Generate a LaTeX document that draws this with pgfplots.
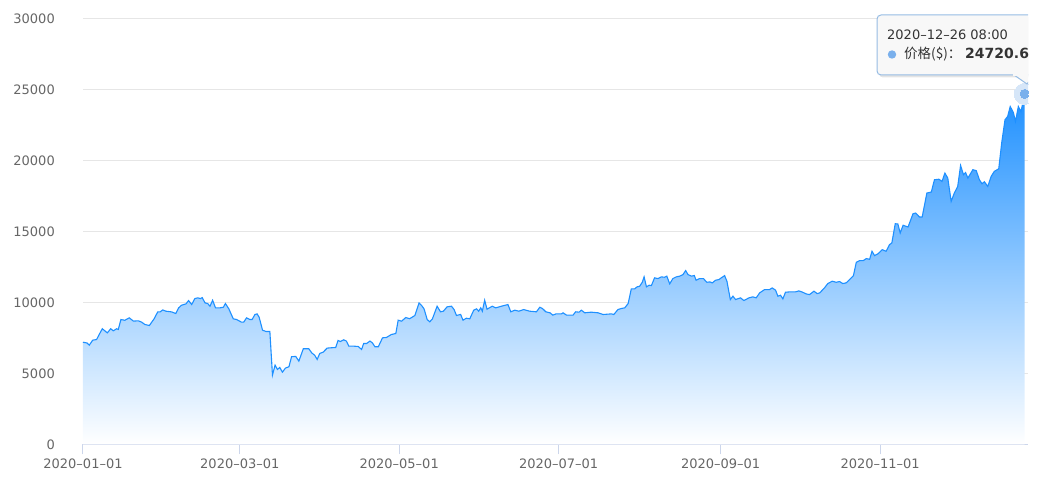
\documentclass[border=0pt]{standalone}
\usepackage{fontspec}
\setmainfont{DejaVu Sans}
\newfontfamily\cjk{Noto Sans CJK SC}
\usepackage{pgfplots}
\usepackage{pgfplotstable}
\pgfplotsset{compat=1.18}
\definecolor{series}{RGB}{30,144,255}
\definecolor{gridcol}{RGB}{230,230,230}
\definecolor{axiscol}{RGB}{204,214,235}
\definecolor{labelcol}{RGB}{102,102,102}
\definecolor{txt}{RGB}{51,51,51}
\definecolor{dot}{RGB}{122,176,236}
\definecolor{halo}{RGB}{214,230,248}
\definecolor{tipbg}{RGB}{248,248,248}
\definecolor{tipborder}{RGB}{150,188,228}

\pgfplotstableread{
d v
0 7200
1.5 7150
2.4 6990
3.7 7345
5.2 7390
6.2 7750
7.4 8150
9.3 7860
10.6 8150
11.6 8005
12.9 8150
13.5 8100
14.5 8800
16 8750
17.7 8920
19.3 8690
21.2 8710
22.4 8620
23.7 8450
25.4 8380
27.2 8850
28.6 9340
29.5 9340
30.5 9480
31.7 9390
33.9 9340
35.5 9225
36.6 9625
37.7 9810
39.4 9905
40.4 10140
41.6 9860
42.8 10280
43.9 10330
45.0 10280
45.6 10350
46.7 9975
47.7 9930
48.6 9740
49.6 10160
50.7 9625
52.4 9625
53.7 9670
54.5 9930
55.8 9555
57.5 8850
58.8 8800
60.6 8620
61.5 8620
62.6 8920
63.9 8800
64.7 8800
65.8 9155
66.6 9200
67.4 8965
68.7 8050
70.0 7960
71.5 7960
72.5 4880
73.5 5585
74.4 5280
75.3 5420
76.3 5090
77.5 5380
78.8 5470
79.8 6175
81.4 6200
82.6 5870
84.3 6740
86.4 6740
87.5 6455
88.7 6270
89.6 5985
90.6 6410
91.9 6500
93.4 6785
95.1 6810
96.7 6830
97.6 7325
98.5 7250
99.8 7370
100.8 7280
101.7 6925
103.4 6925
105.3 6900
106.6 6690
107.4 7110
108.5 7110
109.8 7280
110.7 7160
111.7 6880
113.0 6880
114.6 7510
116.1 7535
118.0 7745
119.7 7815
120.6 8755
121.9 8685
123.5 8940
125.0 8860
127.0 9085
128.6 9975
129.5 9810
130.5 9555
131.7 8800
132.7 8640
133.7 8850
135.5 9740
136.8 9345
137.9 9390
139.3 9695
141.0 9740
142.0 9505
142.9 9085
144.5 9160
145.4 8755
146.7 8895
148.0 8850
149.5 9460
150.6 9555
151.4 9390
152.2 9625
152.8 9390
153.7 10160
154.6 9530
156.6 9740
157.9 9625
160.1 9740
162.6 9860
163.7 9345
165.2 9460
166.8 9390
168.6 9505
170.9 9390
173.5 9345
174.8 9670
175.8 9580
177.1 9345
178.7 9275
179.8 9110
181.0 9200
183.1 9200
183.7 9275
185.0 9110
187.5 9110
188.5 9345
189.8 9320
190.7 9460
192.0 9275
194.5 9320
197.1 9275
199.0 9155
202.2 9200
203.1 9155
204.7 9505
206.0 9580
207.3 9625
208.6 9930
209.8 10965
211.1 10965
212.0 11105
213.0 11150
214.0 11430
214.7 11810
215.6 11105
216.6 11220
217.5 11200
218.7 11740
220.0 11690
221.3 11810
222.5 11785
223.4 11860
224.5 11315
225.7 11690
227.0 11810
228.3 11860
229.6 11975
230.6 12255
231.5 11975
232.8 11860
233.9 11905
234.6 11575
235.9 11690
237.4 11690
238.7 11430
239.9 11455
240.8 11385
242.0 11570
243.3 11620
244.2 11735
245.5 11900
246.4 11500
247.7 10210
248.7 10450
249.7 10210
251.6 10330
252.9 10140
254.8 10330
256.3 10400
257.6 10330
258.9 10680
260.8 10915
262.7 10915
263.7 11030
265.0 10870
265.9 10445
266.9 10515
267.8 10260
268.8 10725
270.3 10750
272.6 10750
273.9 10820
275.1 10750
276.7 10610
278.0 10560
279.7 10800
280.9 10630
281.9 10680
283.7 11030
285.0 11340
286.7 11505
288.2 11430
289.5 11480
290.7 11340
292.0 11385
293.6 11665
294.8 11900
295.9 12840
297.1 12950
298.6 12960
299.7 13100
301.0 13050
301.9 13615
302.9 13310
304.2 13440
305.8 13730
307.3 13615
308.6 14085
309.5 14200
310.8 15560
311.8 15540
312.7 14905
313.8 15450
315.7 15330
317.6 16265
318.6 16310
320.1 16030
321.1 16030
322.9 17725
324.6 17795
325.8 18660
327.5 18700
328.7 18545
329.8 19130
330.9 18780
332.2 17135
333.4 17720
334.7 18190
335.8 19670
336.9 19015
337.7 19170
338.6 18780
340.5 19370
341.8 19300
343.0 18660
344.0 18380
344.9 18520
346.2 18190
347.5 18895
348.7 19250
350.4 19435
351.6 21360
352.8 22890
353.8 23120
354.8 23825
356.0 23400
356.8 22770
357.9 23825
358.9 23470
359.9 24300
360.33 24720
}\btc

\begin{document}
\begin{tikzpicture}[x=1pt,y=1pt]
\path[use as bounding box] (0,0) rectangle (1047,487);
\begin{scope}
\clip (0,0) rectangle (1028,487);
\begin{axis}[
  at={(83pt,42.7pt)}, anchor=south west,
  scale only axis, width=945pt, height=425.3pt,
  xmin=0, xmax=361.6, ymin=0, ymax=30000,
  axis x line*=bottom, axis y line*=left,
  x axis line style={draw=axiscol, line width=1pt, -},
  y axis line style={draw=none},
  xtick={0,60,121,182,244,305},
  xticklabels={2020\textendash01\textendash01,2020\textendash03\textendash01,2020\textendash05\textendash01,2020\textendash07\textendash01,2020\textendash09\textendash01,2020\textendash11\textendash01},
  ytick={0,5000,10000,15000,20000,25000,30000},
  yticklabels={0,5000,10000,15000,20000,25000,30000},
  scaled y ticks=false,
  ymajorgrids, grid style={draw=gridcol, line width=1pt},
  x tick style={draw=axiscol, line width=1pt},
  y tick style={draw=none},
  xtick align=outside, ytick align=inside,
  major tick length=10pt,
  tick label style={font=\fontsize{13}{15}\selectfont, text=labelcol},
  xticklabel style={inner sep=0pt, anchor=north, yshift=-4pt},
  yticklabel style={inner sep=0pt, anchor=east, xshift=-28pt},
]
\addplot[draw=none, top color=series, bottom color=white] table[x=d,y=v]{\btc} \closedcycle;
\addplot[series, line width=1.1pt, mark=none] table[x=d,y=v]{\btc};
\addplot[halo, only marks, mark=*, mark size=10.5pt, mark options={draw=halo, fill=halo, line width=0pt}] coordinates {(360.33,24720)};
\addplot[dot, only marks, mark=*, mark size=4.5pt, mark options={draw=dot, fill=dot, line width=0pt}] coordinates {(360.33,24720)};
\end{axis}
% tooltip
\fill[black!30, opacity=0.35, rounded corners=4] (879,409.5) rectangle (1070,470);
\filldraw[fill=tipbg, draw=tipborder, line width=1pt, rounded corners=4] (877,412) rectangle (1070,472);
\filldraw[fill=tipbg, draw=tipborder, line width=1pt] (1014,412) -- (1027,403) -- (1034,412);
\fill[tipbg] (1013,413) rectangle (1035,411.2);
\node[anchor=base west, inner sep=0pt, text=txt, font=\fontsize{13}{15}\selectfont] at (887,447.7) {2020\textendash12\textendash26 08:00};
\fill[dot] (892,432.5) circle (4.2);
\node[anchor=base west, inner sep=0pt, text=txt, font=\fontsize{13.5}{15}\selectfont\cjk] at (904,428) {价格(\$)：};
\node[anchor=base west, inner sep=0pt, text=txt, font=\fontsize{14}{16}\selectfont\bfseries] at (965,428) {24720.6};
\end{scope}
\end{tikzpicture}
\end{document}
